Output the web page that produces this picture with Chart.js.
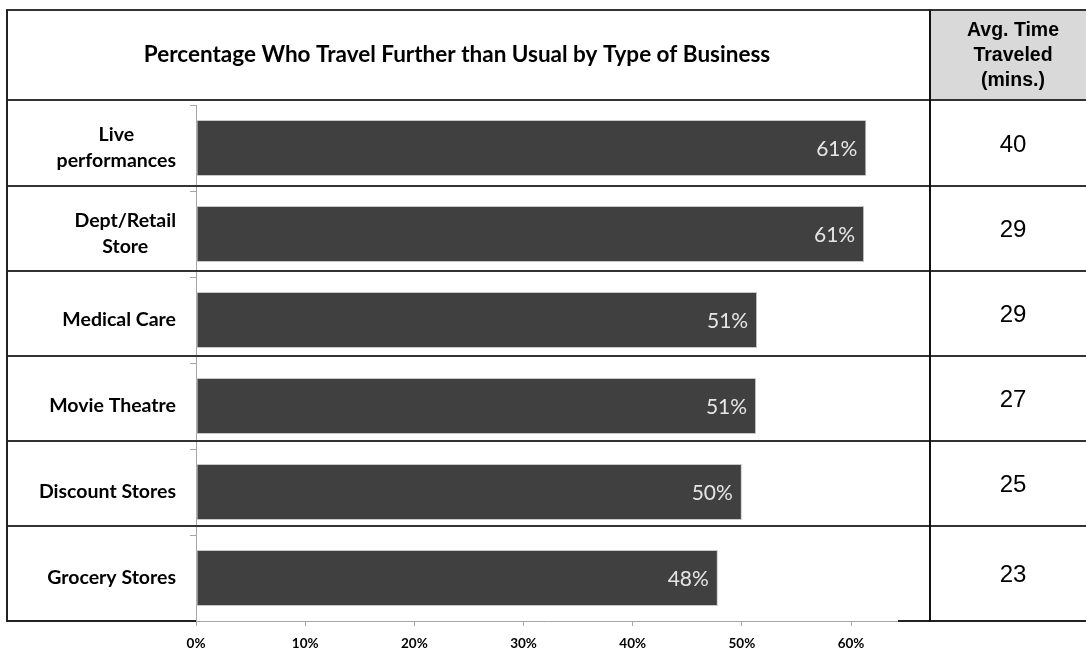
<!DOCTYPE html>
<html>
<head>
<meta charset="utf-8">
<title>Travel Further by Type of Business</title>
<script src="https://cdn.jsdelivr.net/npm/chart.js@4/dist/chart.umd.min.js"></script>
<style>
    html, body { margin: 0; padding: 0; background: #fff; }
    #wrap { width: 1086px; height: 650px; }
</style>
</head>
<body>
<div id="wrap"><canvas id="travelChart" width="1086" height="650"></canvas></div>
<script>
/* Share of people travelling further than usual, by business type, with avg. travel time column */

const businessTypes = [['Live', 'performances'], ['Dept/Retail', 'Store'], 'Medical Care', 'Movie Theatre', 'Discount Stores', 'Grocery Stores'];
const travelFurtherPct = [61.4, 61.2, 51.4, 51.3, 50.0, 47.8];
const avgTravelMins = [40, 29, 29, 27, 25, 23];
const pctTicks = [0, 10, 20, 30, 40, 50, 60];

const chartTitle = 'Percentage Who Travel Further than Usual by Type of Business';
const sideHeader = ['Avg. Time', 'Traveled', '(mins.)'];

// table frame (px)
const FRAME_LEFT = 7;
const FRAME_TOP = 10;
const FRAME_RIGHT = 1086;
const FRAME_BOTTOM = 621;
const SIDE_COL_X = 930;
const SIDE_COL_CX = 1013;
const HEADER_BOTTOM = 100;
const ROW_LINES = [100, 186, 271, 356, 441, 526, 621];

const LABEL_FONT = 'Lato, "Open Sans", sans-serif';
const NUM_FONT = '"Liberation Sans", Arial, sans-serif';

function hLine(ctx, x1, x2, y, color, width) {
    ctx.strokeStyle = color;
    ctx.lineWidth = width;
    ctx.beginPath();
    ctx.moveTo(x1, y);
    ctx.lineTo(x2, y);
    ctx.stroke();
}

function vLine(ctx, x, y1, y2, color, width) {
    ctx.strokeStyle = color;
    ctx.lineWidth = width;
    ctx.beginPath();
    ctx.moveTo(x, y1);
    ctx.lineTo(x, y2);
    ctx.stroke();
}

const tableFramePlugin = {
    id: 'tableFrame',
    beforeDraw(chart) {
        const ctx = chart.ctx;
        ctx.save();
        ctx.fillStyle = '#fff';
        ctx.fillRect(0, 0, chart.width, chart.height);

        // grey header cell of the side column
        ctx.fillStyle = '#d9d9d9';
        ctx.fillRect(SIDE_COL_X, FRAME_TOP, FRAME_RIGHT - SIDE_COL_X, HEADER_BOTTOM - FRAME_TOP);

        // title
        ctx.fillStyle = '#000';
        ctx.font = `bold 22.5px ${LABEL_FONT}`;
        ctx.textAlign = 'center';
        ctx.textBaseline = 'middle';
        ctx.fillText(chartTitle, 457, 55);

        // side column header
        ctx.font = `bold 19.5px ${NUM_FONT}`;
        sideHeader.forEach((line, i) => ctx.fillText(line, SIDE_COL_CX, 31 + i * 25));
        ctx.restore();
    },
    afterDraw(chart) {
        const ctx = chart.ctx;
        const yScale = chart.scales.y;
        const area = chart.chartArea;
        ctx.save();

        // row separators
        ROW_LINES.slice(0, -1).forEach((y) => hLine(ctx, FRAME_LEFT, FRAME_RIGHT, y, '#333', 2));
        hLine(ctx, FRAME_LEFT - 1, FRAME_RIGHT, FRAME_TOP, '#333', 2);
        // bottom border leaves room for the value axis line
        hLine(ctx, FRAME_LEFT - 1, area.left, FRAME_BOTTOM, '#222', 2);
        hLine(ctx, area.right, FRAME_RIGHT, FRAME_BOTTOM, '#222', 2);
        vLine(ctx, FRAME_LEFT, FRAME_TOP, FRAME_BOTTOM + 1, '#222', 2);
        vLine(ctx, SIDE_COL_X, FRAME_TOP, FRAME_BOTTOM + 1, '#111', 2);

        // category labels: block right-aligned, lines centred within the block
        ctx.fillStyle = '#000';
        ctx.font = `bold 19.5px ${LABEL_FONT}`;
        ctx.textAlign = 'center';
        ctx.textBaseline = 'middle';
        businessTypes.forEach((label, i) => {
            const lines = Array.isArray(label) ? label : [label];
            const widest = Math.max(...lines.map((l) => ctx.measureText(l).width));
            const cx = area.left - 20 - widest / 2;
            const cy = yScale.getPixelForValue(i);
            const lh = 26;
            lines.forEach((line, k) => {
                ctx.fillText(line, cx, cy + (k - (lines.length - 1) / 2) * lh);
            });
        });

        // value labels inside bar ends
        const meta = chart.getDatasetMeta(0);
        ctx.fillStyle = '#e6e6e6';
        ctx.font = `21px ${LABEL_FONT}`;
        ctx.textAlign = 'right';
        meta.data.forEach((bar, i) => {
            ctx.fillText(`${Math.round(travelFurtherPct[i])}%`, bar.x - 9, bar.y + 1);
        });

        // avg. time column
        ctx.fillStyle = '#000';
        ctx.font = `24px ${NUM_FONT}`;
        ctx.textAlign = 'center';
        avgTravelMins.forEach((mins, i) => {
            const cy = (ROW_LINES[i] + ROW_LINES[i + 1]) / 2 + 2;
            ctx.fillText(String(mins), SIDE_COL_CX, cy);
        });
        ctx.restore();
    }
};

const canvas = document.getElementById('travelChart');
new Chart(canvas.getContext('2d'), {
    type: 'bar',
    data: {
        labels: businessTypes,
        datasets: [{
            data: travelFurtherPct,
            backgroundColor: '#404040',
            borderColor: '#c8c8c8',
            borderWidth: 1,
            borderSkipped: false,
            categoryPercentage: 1,
            barPercentage: 0.65
        }]
    },
    options: {
        indexAxis: 'y',
        responsive: false,
        devicePixelRatio: 1,
        animation: false,
        layout: { padding: { left: 8, top: 105, right: 188, bottom: 0 } },
        plugins: {
            legend: { display: false },
            tooltip: { enabled: false }
        },
        scales: {
            x: {
                min: 0,
                max: 64.3,
                afterFit: (scale) => { scale.height = 29; },
                afterBuildTicks: (scale) => { scale.ticks = pctTicks.map((v) => ({ value: v })); },
                border: { display: true, color: '#a6a6a6', width: 1 },
                grid: { drawOnChartArea: false, drawTicks: true, tickLength: 5, color: '#a6a6a6' },
                ticks: {
                    padding: 10,
                    color: '#000',
                    font: { family: 'Lato, "Open Sans", sans-serif', weight: 'bold', size: 13.5 },
                    callback: (v) => `${v}%`
                }
            },
            y: {
                afterFit: (scale) => { scale.width = 188; },
                offset: true,
                border: { display: true, color: '#a6a6a6', width: 1 },
                grid: { offset: true, drawOnChartArea: false, drawTicks: true, tickLength: 6, color: '#a6a6a6' },
                ticks: { display: false }
            }
        }
    },
    plugins: [tableFramePlugin]
});
</script>
</body>
</html>
